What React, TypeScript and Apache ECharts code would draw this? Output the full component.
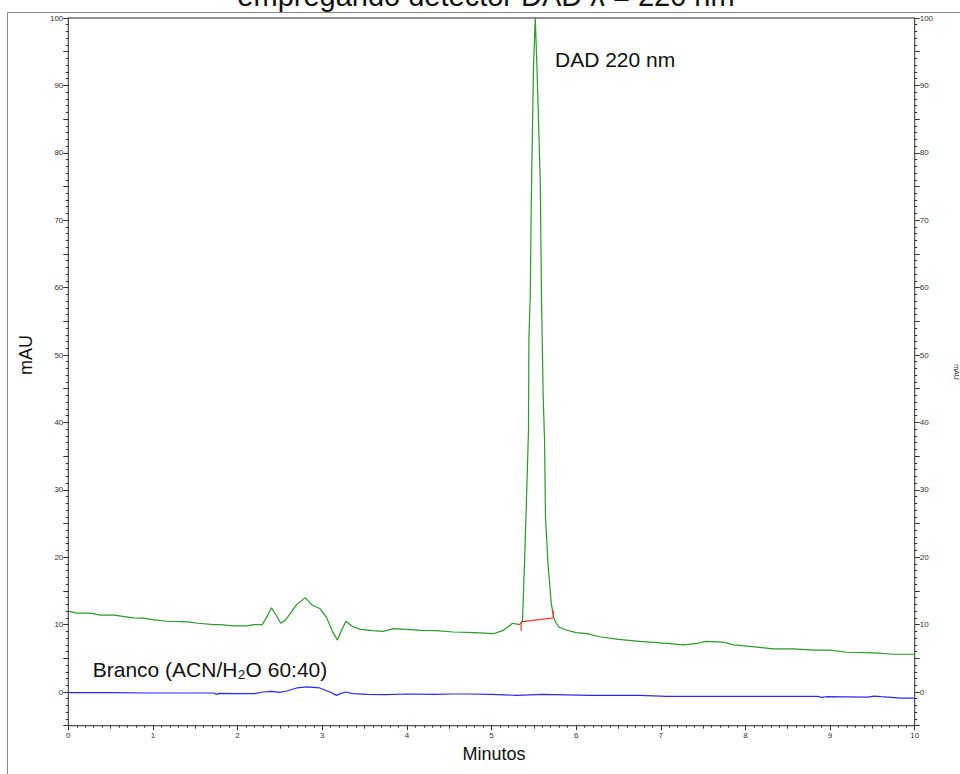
import React, { useEffect, useRef } from "react";
import * as echarts from "echarts";

// Retention time (min) and absorbance (mAU)
const greenTime = [
  0, 0.1, 0.26, 0.38, 0.54, 0.77, 0.89, 1.01, 1.17, 1.41, 1.53, 1.72, 1.79, 1.95, 2.11, 2.19, 2.29,
  2.34, 2.4, 2.45, 2.51, 2.56, 2.62, 2.7, 2.8, 2.88, 2.97, 3.05, 3.12, 3.18, 3.23, 3.28, 3.35, 3.45,
  3.6, 3.72, 3.84, 4.0, 4.16, 4.35, 4.55, 4.8, 5.02, 5.14, 5.25, 5.33, 5.351, 5.366, 5.39, 5.407,
  5.437, 5.442, 5.458, 5.469, 5.496, 5.517, 5.537, 5.576, 5.591, 5.611, 5.627, 5.638, 5.667, 5.706,
  5.733, 5.765, 5.8, 5.883, 6.0, 6.13, 6.28, 6.5, 6.75, 7.07, 7.27, 7.43, 7.53, 7.74, 7.86, 8.02,
  8.33, 8.57, 8.81, 9.0, 9.2, 9.52, 9.75, 10.0,
];
const greenMAU = [
  12.0, 11.7, 11.7, 11.4, 11.4, 11.0, 10.95, 10.7, 10.5, 10.4, 10.2, 10.0, 10.0, 9.8, 9.8, 10.0, 10.0,
  11.0, 12.5, 11.5, 10.2, 10.6, 11.6, 13.0, 14.0, 12.9, 12.4, 11.1, 9.0, 7.7, 9.2, 10.5, 9.8, 9.3,
  9.1, 9.0, 9.4, 9.3, 9.15, 9.1, 8.9, 8.8, 8.65, 9.15, 10.2, 10.0, 10.3, 10.6, 19.1, 25.9,
  38.8, 52.5, 58.9, 71.8, 92.7, 100, 92.7, 75.9, 58.1, 43.7, 37.3, 25.9, 19.1, 13.2,
  11.1, 10.2, 9.6, 9.2, 8.8, 8.66, 8.2, 7.8, 7.5, 7.2, 7.0, 7.2, 7.5, 7.4, 7.0, 6.8,
  6.4, 6.4, 6.2, 6.2, 5.9, 5.8, 5.6, 5.6,
];

const blueTime = [
  0, 0.5, 1.0, 1.5, 1.72, 1.75, 1.78, 2.0, 2.2, 2.3, 2.4, 2.5, 2.58, 2.7, 2.82, 2.97, 3.09, 3.17,
  3.22, 3.28, 3.36, 3.53, 3.75, 4.0, 4.32, 4.55, 4.7, 5.0, 5.3, 5.6, 6.17, 6.75, 7.07, 8.0, 8.85,
  8.9, 8.95, 9.44, 9.52, 9.6, 9.84, 10.0,
];
const blueMAU = [
  -0.1, -0.1, -0.15, -0.15, -0.15, -0.35, -0.2, -0.25, -0.25, 0.0, 0.1, -0.05, 0.15, 0.6, 0.75, 0.6,
  0.0, -0.5, -0.2, 0.0, -0.24, -0.35, -0.4, -0.3, -0.35, -0.3, -0.3, -0.35, -0.5, -0.35, -0.5, -0.5,
  -0.65, -0.65, -0.65, -0.8, -0.7, -0.75, -0.6, -0.7, -0.9, -0.9,
];

// Integration baseline (red) of the main peak
const baselineTime = [5.35, 5.35, 5.73, 5.73];
const baselineMAU = [9.1, 10.4, 11.0, 12.1];

const titleText = "empregando detector DAD λ = 220 nm";
const peakLabel = "DAD 220 nm";
const blankLabel = "Branco (ACN/H₂O 60:40)";
const xTitle = "Minutos";
const yTitle = "mAU";

const FONT = '"Liberation Sans", Arial, sans-serif';

const zip = (a: number[], b: number[]) => a.map((v, i) => [v, b[i]]);

export default function App() {
  const ref = useRef<HTMLDivElement>(null);

  useEffect(() => {
    if (!ref.current) return;
    const chart = echarts.init(ref.current, null, { renderer: "svg" });

    const yAxisBase = (position: "left" | "right") => ({
      type: "value",
      position,
      min: -5,
      max: 100,
      interval: 5,
      axisLine: { show: true, onZero: false, lineStyle: { color: "#555", width: 1 } },
      axisTick: { show: true, inside: false, length: 5, lineStyle: { color: "#333", width: 1 } },
      minorTick: { show: true, splitNumber: 5, length: 2.5, lineStyle: { color: "#333", width: 1 } },
      axisLabel: {
        show: true,
        fontSize: 8,
        fontFamily: FONT,
        color: "#333",
        margin: 5,
        formatter: (v: number) => (Math.round(v) % 10 === 0 ? String(Math.round(v)) : ""),
      },
      splitLine: { show: false },
      minorSplitLine: { show: false },
    });

    chart.setOption({
      animation: false,
      grid: {
        left: 68.3,
        right: 45.3,
        top: 18,
        bottom: 48.3,
        show: true,
        borderColor: "#222",
        borderWidth: 1,
        backgroundColor: "transparent",
      },
      xAxis: [
        {
          type: "value",
          position: "bottom",
          min: 0,
          max: 10,
          interval: 0.5,
          axisLine: { show: true, onZero: false, lineStyle: { color: "#555", width: 1 } },
          axisTick: { show: true, length: 3, lineStyle: { color: "#333", width: 1 } },
          minorTick: { show: true, splitNumber: 5, length: 2, lineStyle: { color: "#333", width: 1 } },
          axisLabel: {
            fontSize: 8,
            fontFamily: FONT,
            color: "#333",
            margin: 6,
            formatter: (v: number) => (Math.abs(v - Math.round(v)) < 1e-6 ? String(Math.round(v)) : ""),
          },
          splitLine: { show: false },
          minorSplitLine: { show: false },
        },
        {
          type: "value",
          position: "bottom",
          min: 0,
          max: 10,
          interval: 1,
          axisLine: { show: false, onZero: false },
          axisTick: { show: true, length: 4.5, lineStyle: { color: "#333", width: 1 } },
          axisLabel: { show: false },
          splitLine: { show: false },
        },
      ],
      yAxis: [yAxisBase("left"), yAxisBase("right")],
      series: [
        {
          type: "line",
          xAxisIndex: 0,
          yAxisIndex: 0,
          data: zip(greenTime, greenMAU),
          showSymbol: false,
          symbol: "none",
          silent: true,
          lineStyle: { color: "#2a9a2a", width: 1.2 },
          z: 3,
        },
        {
          type: "line",
          xAxisIndex: 0,
          yAxisIndex: 0,
          data: zip(blueTime, blueMAU),
          showSymbol: false,
          symbol: "none",
          silent: true,
          lineStyle: { color: "#2a2af5", width: 1.2 },
          z: 3,
        },
        {
          type: "line",
          xAxisIndex: 0,
          yAxisIndex: 0,
          data: zip(baselineTime, baselineMAU),
          showSymbol: false,
          symbol: "none",
          silent: true,
          lineStyle: { color: "#ff3333", width: 1.2 },
          z: 4,
        },
      ],
      graphic: [
        {
          type: "line",
          silent: true,
          shape: { x1: 7.5, y1: 12.5, x2: 960, y2: 12.5 },
          style: { stroke: "#888", lineWidth: 1 },
        },
        {
          type: "line",
          silent: true,
          shape: { x1: 7.5, y1: 12.5, x2: 7.5, y2: 774 },
          style: { stroke: "#888", lineWidth: 1 },
        },
        {
          type: "text",
          silent: true,
          x: 486,
          y: -4,
          style: {
            text: titleText,
            fontSize: 29,
            fontFamily: FONT,
            fill: "#111",
            align: "center",
            verticalAlign: "middle",
          },
        },
        {
          type: "text",
          silent: true,
          x: 555,
          y: 59,
          style: {
            text: peakLabel,
            fontSize: 21,
            fontFamily: FONT,
            fill: "#111",
            align: "left",
            verticalAlign: "middle",
          },
        },
        {
          type: "text",
          silent: true,
          x: 92.7,
          y: 669,
          style: {
            text: blankLabel,
            fontSize: 21,
            fontFamily: FONT,
            fill: "#111",
            align: "left",
            verticalAlign: "middle",
          },
        },
        {
          type: "text",
          silent: true,
          x: 494,
          y: 754,
          style: {
            text: xTitle,
            fontSize: 18,
            fontFamily: FONT,
            fill: "#111",
            align: "center",
            verticalAlign: "middle",
          },
        },
        {
          type: "text",
          silent: true,
          x: 26,
          y: 355,
          rotation: Math.PI / 2,
          style: {
            text: yTitle,
            fontSize: 18,
            fontFamily: FONT,
            fill: "#111",
            align: "center",
            verticalAlign: "middle",
          },
        },
        {
          type: "text",
          silent: true,
          x: 956,
          y: 372,
          rotation: -Math.PI / 2,
          style: {
            text: yTitle,
            fontSize: 7,
            fontFamily: FONT,
            fill: "#333",
            align: "center",
            verticalAlign: "middle",
          },
        },
      ],
    });

    return () => chart.dispose();
  }, []);

  return (
    <div
      ref={ref}
      style={{ position: "fixed", left: 0, top: 0, width: 960, height: 774, background: "#fff" }}
    />
  );
}
